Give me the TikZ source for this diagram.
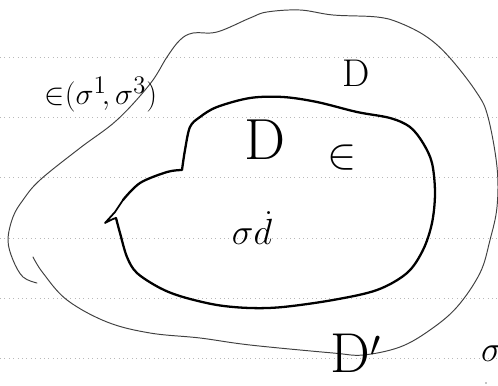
\documentclass[tikz,border=0pt]{standalone}
\usepackage{amsmath}
\begin{document}
\begin{tikzpicture}[
        x=0.02cm, y=-0.02cm,
        ruled/.style={gray!55, dotted, line width=0.5pt},
        outerline/.style={black!75, line width=0.55pt, line join=round, line cap=round},
        innerline/.style={black, line width=1.3pt, line join=round, line cap=round},
        hand/.style={inner sep=0pt, text=black}
    ]
        \useasboundingbox (0,0) rectangle (498,386);

        % 0. Notebook lines
        \foreach \yy in {57,117,177,238,298,358} {
            \draw[ruled] (0,\yy) -- (498,\yy);
        }

        % 1. Outer region (open, ends overlap at the left)
        \draw[outerline] plot[smooth, tension=0.6] coordinates {
            (37,283) (23,277) (13,260) (8,240) (13,217) (23,200) (40,180)
            (80,148) (117,120) (150,84) (167,57) (180,40) (193,33) (217,32)
            (250,18) (267,12) (300,10) (333,15) (377,17) (400,23) (427,37)
            (450,58) (477,93) (488,117) (497,167) (497,207) (490,240)
            (480,273) (457,307) (430,330) (400,347) (363,355) (333,353)
            (250,345) (200,338) (150,333) (107,322) (67,300) (43,273) (33,257)
        };

        % 2. Inner region D
        \draw[innerline] plot[smooth, tension=0.55] coordinates {
            (123,200) (140,183) (167,172) (182,170)
        } -- plot[smooth, tension=0.55] coordinates {
            (182,170) (185,150) (190,127) (200,117) (217,107) (250,98)
            (283,97) (317,102) (357,112) (390,118) (410,127) (423,143)
            (432,163) (435,193) (432,223) (423,250) (407,273) (377,290)
            (333,300) (283,307) (250,308) (217,305) (183,297) (160,288)
            (137,273) (127,257) (120,233) (116,218)
        };
        \draw[innerline, line width=1pt] (123,200) -- (115,212) -- (105,223) -- (113,219) -- (116,218);

        % 3. Labels
        \node[hand, font=\fontsize{19}{21}\selectfont] (eps) at (101,95) {$\mathord{\in}(\sigma^{1}\!,\sigma^{3})$};
        \node[hand, font=\fontsize{22}{24}\selectfont] (dsmall) at (356,73) {D};
        \node[hand, font=\fontsize{33}{36}\selectfont] (dbig) at (265,140) {D};
        \node[hand, font=\fontsize{26}{28}\selectfont] (elem) at (342,158) {$\in$};
        \node[hand, font=\fontsize{20}{22}\selectfont] (sigd) at (252,228) {$\sigma\dot{d}$};
        \node[hand, font=\fontsize{32}{34}\selectfont] (dprime) at (356,353) {D$'$};
        \node[hand, font=\fontsize{20}{22}\selectfont] (sigr) at (492,354) {$\sigma$};
        \fill (486,383) circle (0.6);

\end{tikzpicture}
\end{document}
